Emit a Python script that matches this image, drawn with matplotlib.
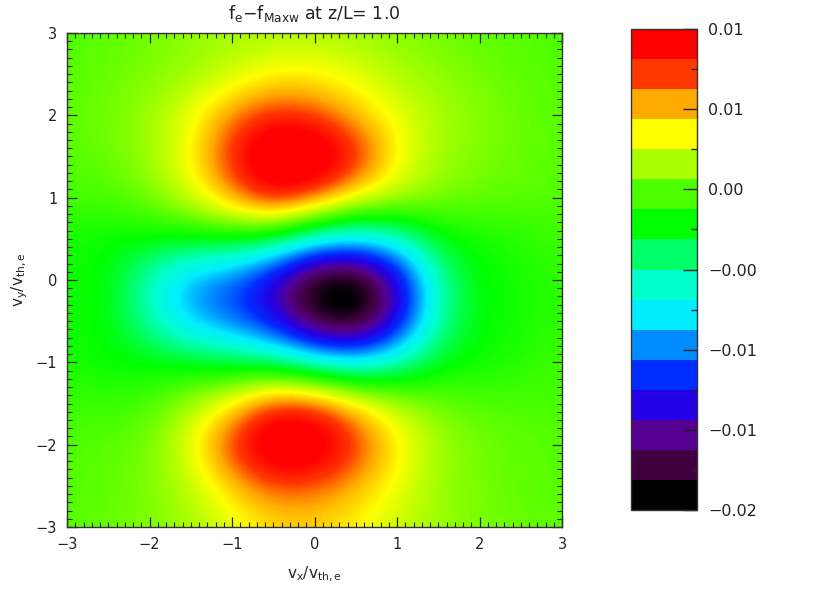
import numpy as np
import matplotlib
matplotlib.use('Agg')
import matplotlib.pyplot as plt
from matplotlib.colors import LinearSegmentedColormap, ListedColormap, Normalize
from matplotlib.cm import ScalarMappable
from matplotlib.ticker import FixedLocator, FuncFormatter, MultipleLocator

# grid of the velocity plane (rows go from vy=+3 down to vy=-3)
vx_grid = np.arange(-3.0, 3.01, 0.5)
vy_grid = np.arange(3.0, -3.01, -0.5)

# f_e - f_Maxw, in units of 1e-3
df_rows = [
    [1.2, 1.6, 2.0, 2.6, 2.9, 3.1, 3.1, 2.8, 2.4, 2.0, 1.6, 1.4, 1.2],
    [1.4, 1.8, 2.2, 2.8, 3.7, 5.0, 5.0, 4.4, 3.1, 2.6, 2.0, 1.6, 1.4],
    [1.6, 2.0, 2.9, 4.6, 7.5, 9.2, 8.5, 6.2, 4.6, 3.1, 2.4, 1.8, 1.4],
    [1.4, 1.8, 2.8, 5.0, 9.5, 14.5, 14.0, 10.0, 5.0, 2.9, 2.2, 1.8, 1.4],
    [1.2, 1.2, 2.2, 4.1, 7.0, 10.2, 8.0, 5.0, 3.5, 2.4, 1.8, 1.6, 1.4],
    [-0.1, -0.6, -0.6, -0.6, -0.6, -1.6, -4.75, -5.9, -4.4, -1.0, -0.25, 0.3, 0.9],
    [-0.25, -0.6, -4.4, -8.1, -9.4, -12.8, -18.6, -19.2, -13.0, -3.5, -0.6, -0.1, 0.5],
    [-0.25, -0.6, -3.8, -7.2, -9.1, -11.5, -16.8, -18.4, -12.2, -3.4, -0.6, -0.1, 0.5],
    [-0.1, -0.6, -0.6, -1.0, -1.6, -2.5, -4.4, -5.7, -3.8, -1.0, -0.4, 0.3, 0.9],
    [0.9, 0.7, 1.25, 3.1, 5.2, 9.0, 8.6, 5.8, 3.5, 2.0, 1.4, 1.25, 1.25],
    [1.25, 1.6, 2.0, 4.6, 9.3, 13.8, 13.4, 9.2, 5.4, 2.9, 2.0, 1.6, 1.4],
    [1.4, 1.6, 2.2, 3.5, 6.0, 8.2, 7.9, 6.5, 4.6, 2.75, 2.0, 1.6, 1.4],
    [1.4, 1.8, 2.2, 2.9, 4.25, 5.6, 5.75, 5.0, 3.7, 2.75, 2.2, 1.8, 1.6],
]
df = np.array(df_rows) * 1e-3

vmin, vmax = -0.0175, 0.0125
cbar_ticks = [-0.0175, -0.0125, -0.0075, -0.0025, 0.0025, 0.0075, 0.0125]

# 16 colour levels (IDL rainbow-like table)
level_colors = [
    (0, 0, 0), (64, 0, 64), (85, 0, 145), (35, 0, 230),
    (0, 45, 255), (0, 140, 255), (0, 238, 255), (0, 255, 205),
    (0, 255, 105), (0, 255, 0), (75, 255, 0), (170, 255, 0),
    (255, 255, 0), (255, 170, 0), (255, 55, 0), (255, 0, 0),
]
level_colors = [tuple(c / 255 for c in rgb) for rgb in level_colors]
nodes = [(k / 16, c) for k, c in enumerate(level_colors)] + [(1.0, level_colors[-1])]
smooth_cmap = LinearSegmentedColormap.from_list('idl_smooth', nodes, N=256)
step_cmap = ListedColormap(level_colors)
norm = Normalize(vmin=vmin, vmax=vmax)

plt.rcParams['font.family'] = 'DejaVu Sans'
plt.rcParams['mathtext.fontset'] = 'dejavusans'

fig = plt.figure(figsize=(8.30, 5.93), dpi=100)
ax = fig.add_axes([67 / 830, 1 - 527 / 593, 495 / 830, 494 / 593])

dx = 0.25
ax.imshow(df, cmap=smooth_cmap, norm=norm, origin='upper', interpolation='bicubic',
          extent=[vx_grid[0] - dx, vx_grid[-1] + dx, vy_grid[-1] - dx, vy_grid[0] + dx],
          aspect='auto')
ax.set_xlim(-3, 3)
ax.set_ylim(-3, 3)
ax.xaxis.set_major_locator(MultipleLocator(1))
ax.yaxis.set_major_locator(MultipleLocator(1))
ax.xaxis.set_minor_locator(MultipleLocator(0.1))
ax.yaxis.set_minor_locator(MultipleLocator(0.1))
fmt = FuncFormatter(lambda v, p: ('%d' % round(v)).replace('-', '\u2212'))
ax.xaxis.set_major_formatter(fmt)
ax.yaxis.set_major_formatter(fmt)
ax.tick_params(which='both', direction='in', top=True, right=True, colors='#222222',
               labelsize=10.5, labelcolor='#222222')
ax.tick_params(which='major', length=7, width=0.9, pad=7)
ax.tick_params(which='minor', length=3.5, width=0.8)
for s in ax.spines.values():
    s.set_linewidth(1.0)
    s.set_color('#333333')

ax.set_title(r'$\mathrm{f_e{-}f_{Maxw}}$ at z/L= 1.0', fontsize=12.5, pad=10, color='#222222')
ax.set_xlabel(r'$\mathrm{v_x/v_{th,e}}$', fontsize=11, labelpad=9, color='#222222')
ax.set_ylabel(r'$\mathrm{v_y/v_{th,e}}$', fontsize=11, labelpad=4, color='#222222')

# colour bar with 16 discrete levels
cax = fig.add_axes([631 / 830, 1 - 510 / 593, 66 / 830, 481 / 593])
sm = ScalarMappable(norm=norm, cmap=step_cmap)
cb = fig.colorbar(sm, cax=cax)
cb.outline.set_linewidth(1.0)
cb.outline.set_edgecolor('#333333')
cax.yaxis.set_major_locator(FixedLocator(cbar_ticks))
cax.yaxis.set_minor_locator(FixedLocator([t + 0.0025 for t in cbar_ticks[:-1]]))
cax.yaxis.set_major_formatter(FuncFormatter(lambda v, p: ('%.2f' % v).replace('-', '\u2212')))
cax.tick_params(which='both', direction='in', colors='#222222', labelsize=11.5,
                labelcolor='#222222')
cax.tick_params(which='major', length=10, width=1.0, pad=8)
cax.tick_params(which='minor', length=4.5, width=1.0)

fig.savefig('out.png', dpi=100, facecolor='white')
